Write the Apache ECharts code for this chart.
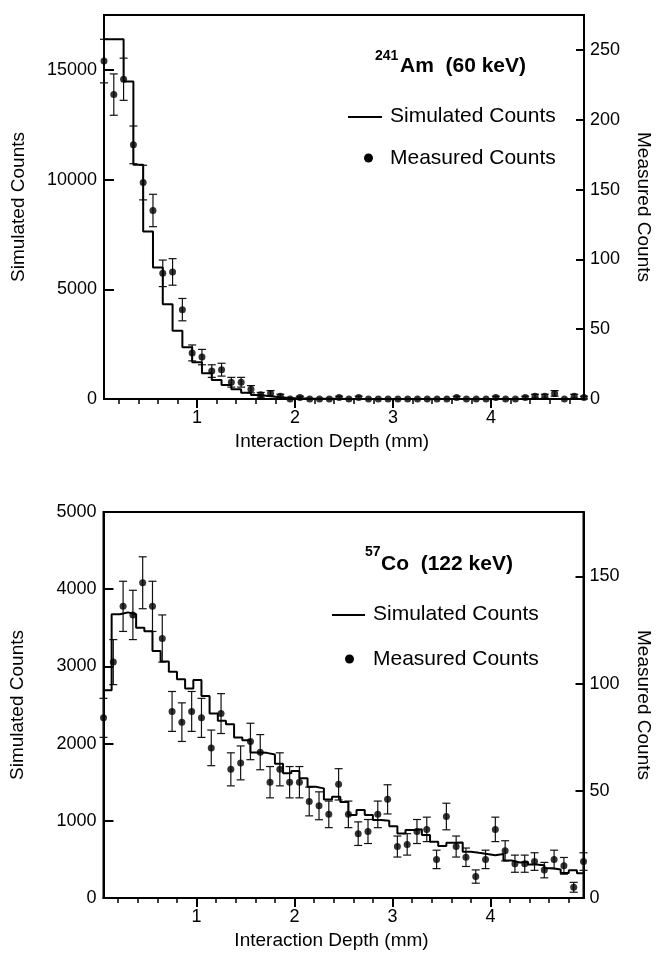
<!DOCTYPE html>
<html><head><meta charset="utf-8">
<script src="https://cdn.jsdelivr.net/npm/echarts@6/dist/echarts.min.js"></script>
<style>html,body{margin:0;padding:0;background:#fff}#c{width:663px;height:957px}</style>
</head><body><div id="c"></div>
<script>
// ---------- DATA ----------
// x-axis tick positions (mm)
const majorTicks = [1, 2, 3, 4];
const minorTicks = [0.2,0.4,0.6,0.8,1.2,1.4,1.6,1.8,2.2,2.4,2.6,2.8,3.2,3.4,3.6,3.8,4.2,4.4,4.6,4.8];
const amLeftTicks = [0, 5000, 10000, 15000];
const amRightTicks = [0, 50, 100, 150, 200, 250];
const coLeftTicks = [0, 1000, 2000, 3000, 4000, 5000];
const coRightTicks = [0, 50, 100, 150];

// measured depth positions (mm), both panels
const depth = [0.05,0.15,0.25,0.35,0.45,0.55,0.65,0.75,0.85,0.95,1.05,1.15,1.25,1.35,1.45,1.55,1.65,1.75,1.85,1.95,
  2.05,2.15,2.25,2.35,2.45,2.55,2.65,2.75,2.85,2.95,3.05,3.15,3.25,3.35,3.45,3.55,3.65,3.75,3.85,3.95,
  4.05,4.15,4.25,4.35,4.45,4.55,4.65,4.75,4.85,4.95];

// 241Am panel
const amSimEdges = depth; // bin edges (0.1 mm bins)
const amSim = [16400,16400,14470,10670,7630,5990,4320,3115,2355,1670,1170,865,640,440,290,180,120,75,48,30,
  20,13,9,6,4,3,2,2,1,1,1,0,0,0,0,0,0,0,0,0,0,0,0,0,0,0,0,0,0];
const amMeas = [242,218,229,182,155,135,90,91,64,33,30,20,21,12,12,7,3,4,2,0,
  1,0,0,0,1,0,1,0,0,0,0,0,0,0,0,0,1,0,0,0,1,0,0,1,2,2,4,0,2,1];
const amErr = [15.6,14.8,15.1,13.5,12.4,11.6,9.5,9.5,8,5.7,5.5,4.5,4.6,3.5,3.5,2.6,1.7,2,1.4,0,
  1,0,0,0,1,0,1,0,0,0,0,0,0,0,0,0,1,0,0,0,1,0,0,1,1.4,1.4,2,0,1.4,1];

// 57Co panel
const coSimEdges = [0.05,0.133,0.217,0.3,0.383,0.467,0.55,0.633,0.717,0.8,0.883,0.967,1.05,1.133,1.217,1.3,1.383,1.467,1.55,1.633,
  1.717,1.8,1.883,1.967,2.05,2.133,2.217,2.3,2.383,2.467,2.55,2.633,2.717,2.8,2.883,2.967,3.05,3.133,3.217,3.3,
  3.383,3.467,3.55,3.633,3.717,3.8,3.883,3.967,4.05,4.133,4.217,4.3,4.383,4.467,4.55,4.633,4.717,4.8,4.883,4.967];
const coSim = [2690,3675,3700,3675,3500,3455,3200,3065,2930,2835,2715,2825,2615,2390,2295,2250,2080,2045,1885,1880,
  1860,1740,1615,1645,1550,1440,1420,1275,1310,1245,1075,1140,1075,1010,1000,930,835,880,890,815,
  730,675,715,720,600,585,570,555,570,485,460,470,435,425,385,370,325,360,320];
const coMeas = [84,110,136,132,147,136,121,87,82,87,84,70,86,60,63,73,68,54,60,54,
  54,45,43,39,53,39,30,31,39,46,24,25,31,32,18,38,24,19,10,18,
  32,22,16,16,17,13,18,15,5,17];
const coErr = [9.1,10.5,11.7,11.5,12.1,11.7,11,9.3,9,9.3,9.1,8.3,9.3,7.7,7.9,8.5,8.2,7.3,7.7,7.3,
  7.3,6.7,6.5,6.2,7.3,6.2,5.5,5.6,6.2,6.8,4.9,5,5.6,5.7,4.3,6.2,4.9,4.3,3.1,4.3,
  5.7,4.7,4,4,4.1,3.6,4.3,3.9,2.3,4.1];

// ---------- CHART ----------
const FONT = '"Liberation Sans", Arial, Helvetica, sans-serif';
const chart = echarts.init(document.getElementById('c'), null, {renderer: 'canvas'});

function stepData(edges, vals) {
  const d = vals.map((v, i) => [edges[i], v]);
  d.push([edges[vals.length], vals[vals.length - 1]]);
  return d;
}
function pts(xs, ys) { return ys.map((v, i) => [xs[i], v]); }
function errPts(xs, ys, es) { return ys.map((v, i) => [xs[i], v, es[i]]); }

function errRender(params, api) {
  const x = api.value(0), y = api.value(1), e = api.value(2);
  if (!(e > 0)) return {type: 'group', children: []};
  const hi = api.coord([x, y + e]), lo = api.coord([x, Math.max(0, y - e)]);
  const w = 4;
  const st = {stroke: '#111', lineWidth: 1.2};
  return {type: 'group', children: [
    {type: 'line', shape: {x1: hi[0], y1: hi[1], x2: lo[0], y2: lo[1]}, style: st},
    {type: 'line', shape: {x1: hi[0] - w, y1: hi[1], x2: hi[0] + w, y2: hi[1]}, style: st},
    {type: 'line', shape: {x1: lo[0] - w, y1: lo[1], x2: lo[0] + w, y2: lo[1]}, style: st}
  ]};
}

const nameStyle = {fontSize: 19, color: '#000', fontFamily: FONT};
const labStyle = {fontSize: 18, color: '#000', fontFamily: FONT, formatter: function (v) { return String(v); }};

function xMain(gi) {
  return {type: 'value', gridIndex: gi, min: 0.05, max: 4.95, position: 'bottom',
    axisLine: {show: true, onZero: false, lineStyle: {color: '#000', width: 2}},
    axisTick: {show: true, inside: false, length: 9, customValues: majorTicks, lineStyle: {color: '#000', width: 2}},
    axisLabel: Object.assign({show: true, customValues: majorTicks, margin: 10}, labStyle),
    splitLine: {show: false},
    name: 'Interaction Depth (mm)', nameLocation: 'middle', nameGap: 33,
    nameTextStyle: Object.assign({padding: [0, 24, 0, 0]}, nameStyle)};
}
function xMinor(gi) {
  return {type: 'value', gridIndex: gi, min: 0.05, max: 4.95, position: 'bottom',
    axisLine: {show: false, onZero: false},
    axisTick: {show: true, inside: false, length: 5, customValues: minorTicks, lineStyle: {color: '#000', width: 1.5}},
    axisLabel: {show: false}, splitLine: {show: false}};
}
function yLeft(gi, max, ticks) {
  return {type: 'value', gridIndex: gi, min: 0, max: max, position: 'left',
    axisLine: {show: true, onZero: false, lineStyle: {color: '#000', width: 2}},
    axisTick: {show: true, inside: true, length: 10, customValues: ticks, lineStyle: {color: '#000', width: 2}},
    axisLabel: Object.assign({show: true, customValues: ticks, margin: 7}, labStyle),
    splitLine: {show: false},
    name: 'Simulated Counts', nameLocation: 'middle', nameGap: 76, nameRotate: 90,
    nameTextStyle: nameStyle};
}
function yRight(gi, max, ticks) {
  return {type: 'value', gridIndex: gi, min: 0, max: max, position: 'right',
    axisLine: {show: true, onZero: false, lineStyle: {color: '#000', width: 2}},
    axisTick: {show: true, inside: true, length: 8, customValues: ticks, lineStyle: {color: '#000', width: 2}},
    axisLabel: Object.assign({show: true, customValues: ticks, margin: 6}, labStyle),
    splitLine: {show: false},
    name: 'Measured Counts', nameLocation: 'middle', nameGap: 50, nameRotate: -90,
    nameTextStyle: nameStyle};
}

const gridBase = {show: true, borderColor: '#000', borderWidth: 2, backgroundColor: 'transparent', containLabel: false};

function txt(t, x, y, size, bold) {
  return {type: 'text', x: x, y: y, silent: true,
    style: {text: t, fontSize: size, fontFamily: FONT, fontWeight: bold ? 'bold' : 'normal', fill: '#000', verticalAlign: 'middle', align: 'left'}};
}
function legLine(x1, x2, y) {
  return {type: 'line', silent: true, shape: {x1: x1, y1: y, x2: x2, y2: y}, style: {stroke: '#000', lineWidth: 2}};
}
function legDot(cx, cy) {
  return {type: 'circle', silent: true, shape: {cx: cx, cy: cy, r: 4.5}, style: {fill: '#000'}};
}

const option = {
  backgroundColor: '#fff',
  animation: false,
  grid: [
    Object.assign({left: 104, right: 79, top: 15, height: 384}, gridBase),
    Object.assign({left: 103.5, right: 79.5, top: 512, height: 386}, gridBase)
  ],
  xAxis: [xMain(0), xMinor(0), xMain(1), xMinor(1)],
  yAxis: [yLeft(0, 17500, amLeftTicks), yRight(0, 275, amRightTicks), yLeft(1, 5000, coLeftTicks), yRight(1, 180, coRightTicks)],
  series: [
    {type: 'line', xAxisIndex: 0, yAxisIndex: 0, step: 'end', showSymbol: false, symbol: 'none',
      lineStyle: {color: '#000', width: 2}, data: stepData(amSimEdges, amSim), z: 3},
    {type: 'custom', xAxisIndex: 0, yAxisIndex: 1, renderItem: errRender, data: errPts(depth, amMeas, amErr), z: 2},
    {type: 'scatter', xAxisIndex: 0, yAxisIndex: 1, symbol: 'circle', symbolSize: 7,
      itemStyle: {color: '#000'}, data: pts(depth, amMeas), z: 4},
    {type: 'line', xAxisIndex: 2, yAxisIndex: 2, step: 'end', showSymbol: false, symbol: 'none',
      lineStyle: {color: '#000', width: 2}, data: stepData(coSimEdges, coSim), z: 3},
    {type: 'custom', xAxisIndex: 2, yAxisIndex: 3, renderItem: errRender, data: errPts(depth, coMeas, coErr), z: 2},
    {type: 'scatter', xAxisIndex: 2, yAxisIndex: 3, symbol: 'circle', symbolSize: 7,
      itemStyle: {color: '#000'}, data: pts(depth, coMeas), z: 4}
  ],
  graphic: [
    txt('241', 375, 56, 14, true),
    txt('Am  (60 keV)', 400, 66, 21, true),
    legLine(348, 382, 117),
    txt('Simulated Counts', 390, 116, 21, false),
    legDot(368.5, 158),
    txt('Measured Counts', 390, 158, 21, false),
    txt('57', 365, 552, 14, true),
    txt('Co  (122 keV)', 381, 564, 21, true),
    legLine(332, 365, 615),
    txt('Simulated Counts', 373, 614, 21, false),
    legDot(349.5, 659),
    txt('Measured Counts', 373, 659, 21, false)
  ]
};
chart.setOption(option);
</script></body></html>
